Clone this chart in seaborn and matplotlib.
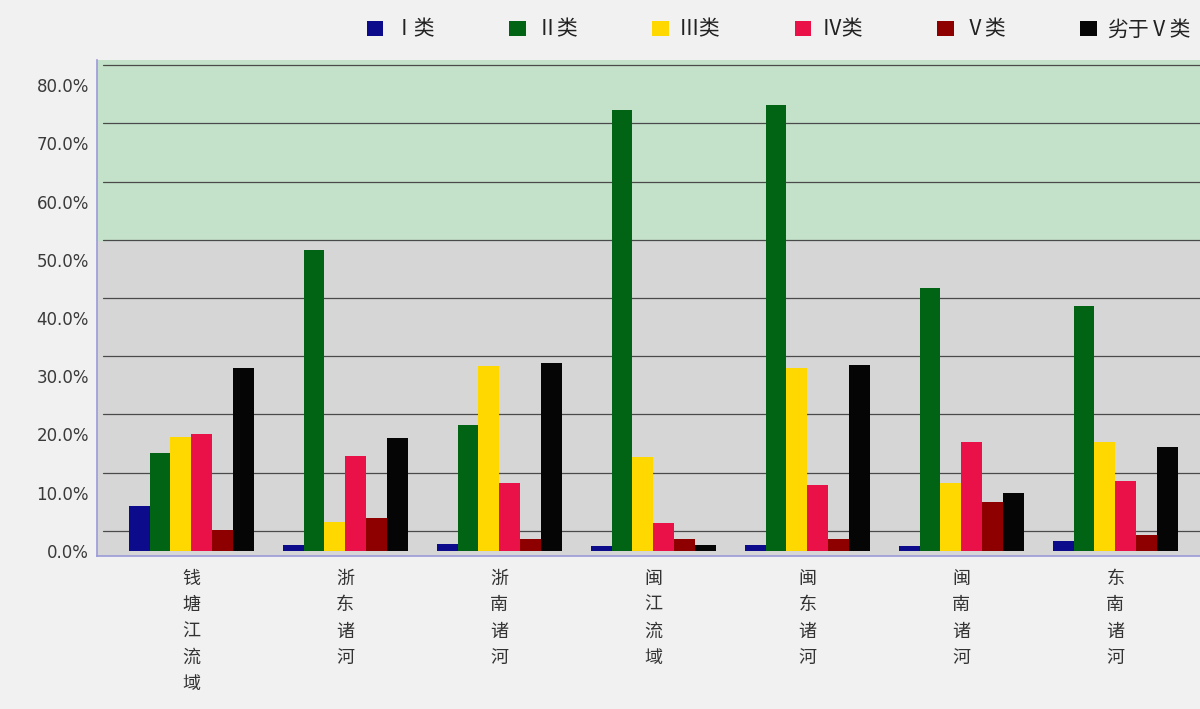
import matplotlib
matplotlib.use('Agg')
import matplotlib.pyplot as plt
import matplotlib.transforms as mtransforms
from matplotlib.patches import Patch
import seaborn as sns
import pandas as pd

# basins (x categories), one char per line as in the original
basins = ['钱塘江流域', '浙东诸河', '浙南诸河', '闽江流域', '闽东诸河', '闽南诸河', '东南诸河']
classes = ['Ⅰ类', 'Ⅱ类', 'Ⅲ类', 'Ⅳ类', 'Ⅴ类', '劣于Ⅴ类']

# percentage of each water-quality class per basin
class_1 = [7.7, 1.0, 1.2, 0.8, 1.0, 0.9, 1.7]
class_2 = [16.8, 51.7, 21.6, 75.7, 76.6, 45.1, 42.1]
class_3 = [19.6, 5.0, 31.8, 16.1, 31.4, 11.7, 18.7]
class_4 = [20.1, 16.3, 11.7, 4.8, 11.3, 18.7, 12.0]
class_5 = [3.6, 5.7, 2.0, 2.0, 2.0, 8.4, 2.8]
worse_5 = [31.4, 19.4, 32.3, 1.0, 31.9, 10.0, 17.9]

yticks = [0, 10, 20, 30, 40, 50, 60, 70, 80]
colors = ['#0b0b8c', '#006414', '#ffd800', '#ea1148', '#8e0000', '#050505']

series = [class_1, class_2, class_3, class_4, class_5, worse_5]
rows = []
for cls, vals in zip(classes, series):
    for b, v in zip(basins, vals):
        rows.append({'basin': b, 'cls': cls, 'pct': v})
df = pd.DataFrame(rows)

sns.set_style('white')
plt.rcParams['font.family'] = ['Noto Sans CJK SC', 'DejaVu Sans']

fig = plt.figure(figsize=(12, 7.09), dpi=100)
fig.patch.set_facecolor('#f1f1f1')
ax = fig.add_axes([0.081, 0.216, 0.919, 0.699])
ax.set_facecolor('#d6d6d6')

# green upper wall
ax.axhspan(53.4, 90, color='#c4e2c9', zorder=0)

sns.barplot(data=df, x='basin', y='pct', hue='cls', order=basins, hue_order=classes,
            palette=colors, width=0.81, gap=0, saturation=1, legend=False, ax=ax,
            linewidth=0, zorder=3)

ax.set_ylim(-0.86, 84.3)
ax.set_xlim(-0.61, 6.55)
ax.set_yticks(yticks)
ax.set_yticklabels([f'{t:.1f}%' for t in yticks], fontsize=12, color='#3a3a3a',
                   family=['DejaVu Sans'])
ax.set_xticks(range(len(basins)))
ax.set_xticklabels(['\n'.join(b) for b in basins], fontsize=13, color='#333333',
                   linespacing=1.6, va='top')
ax.set_xlabel('')
ax.set_ylabel('')
ax.tick_params(axis='y', direction='in', length=4, width=1.5, color='#333333', pad=6)
ax.tick_params(axis='x', length=0, pad=10)

# back-wall gridlines, drawn a bit above the front ticks
ax.grid(axis='y', color='#4a4a4a', linewidth=0.9, zorder=1)
ax.set_axisbelow(True)
shift = mtransforms.ScaledTranslation(0.06, 0.2, fig.dpi_scale_trans)
for gl in ax.get_ygridlines():
    gl.set_transform(gl.get_transform() + shift)

for side in ['top', 'right']:
    ax.spines[side].set_visible(False)
ax.spines['left'].set_color('#9a9ad8')
ax.spines['bottom'].set_color('#9a9ad8')
ax.spines['left'].set_linewidth(1.2)
ax.spines['bottom'].set_linewidth(1.2)

handles = [Patch(facecolor=c, edgecolor='none') for c in colors]
fig.legend(handles, classes, loc='upper right', bbox_to_anchor=(1.008, 1.0), ncol=6,
           frameon=False, fontsize=15, handlelength=0.8, handleheight=0.8,
           handletextpad=0.5, columnspacing=3.55, labelcolor='#222222')

fig.savefig('out.png', dpi=100, facecolor=fig.get_facecolor())
